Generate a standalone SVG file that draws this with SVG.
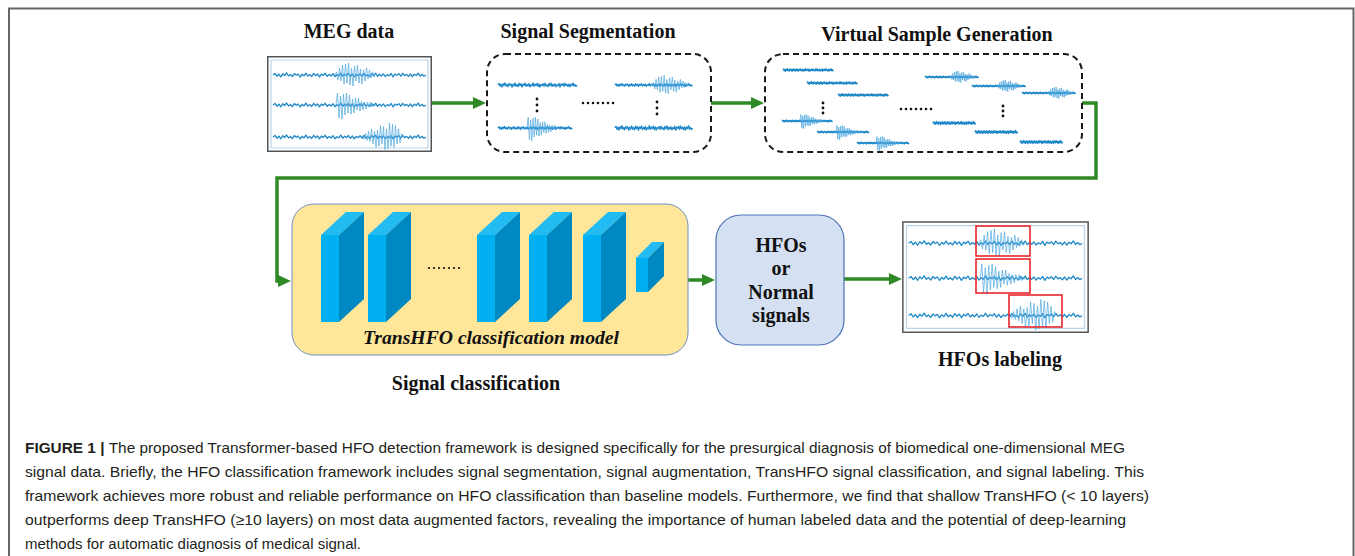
<svg xmlns="http://www.w3.org/2000/svg" xmlns:xlink="http://www.w3.org/1999/xlink" width="1355" height="556" viewBox="0 0 1355 556">
  <style>
    .title { font-family: "Liberation Serif", "Times New Roman", serif; font-weight: bold; font-size: 20px; fill: #111; text-anchor: middle; }
    .model { font-family: "Liberation Serif", "Times New Roman", serif; font-weight: bold; font-style: italic; font-size: 19px; fill: #111; text-anchor: middle; }
    .cap { font-family: "Liberation Sans", Arial, sans-serif; font-size: 15px; fill: #231F20; }
    .noise { fill: none; stroke: #1E88C8; stroke-width: 1.3; stroke-linejoin: round; }
    .burst { fill: none; stroke: #4FA8DE; stroke-width: 0.7; }
    .frame { fill: none; stroke: #666; stroke-width: 2; }
    .dashed { fill: #fff; stroke: #1a1a1a; stroke-width: 2; stroke-dasharray: 6 4; }
    .flow { fill: none; stroke: #2F8A25; stroke-width: 3.5; }
    .dot { fill: #111; }
    .front { fill: #00B0F0; }
    .top { fill: #22BCF3; }
    .side { fill: #0088C2; }
    .mark { fill: none; stroke: #E8262B; stroke-width: 1.6; }
  </style>
  <defs>
    <marker id="head" markerUnits="userSpaceOnUse" markerWidth="13" markerHeight="12" refX="7" refY="6" orient="auto">
      <path d="M0,0 L13,6 L0,12 z" fill="#2F8A25"/>
    </marker>
    <!-- baseline noise trace, 158 px long -->
    <path id="nz" class="noise" vector-effect="non-scaling-stroke" d="M0,0 L2,-1.5 4,1.2 6,-0.8 8,1.8 10,-1.2 12,0.6 14,-2 16,1 18,-0.5 20,1.6 22,-1.4 24,0.3 26,-1 28,2 30,-0.7 32,0.9 34,-1.8 36,1.1 38,-0.4 40,1.5 42,-1.6 44,0.7 46,-1.1 48,1.9 50,-0.9 52,0.4 54,-1.7 56,1.3 58,-0.6 60,1 62,-1.3 64,1.7 66,-0.3 68,0.8 70,-1.9 72,1.2 74,-0.8 76,0.5 78,-1.5 80,1.4 82,-1 84,1.8 86,-0.5 88,0.6 90,-1.2 92,1.1 94,-1.6 96,0.9 98,-0.2 100,1.5 102,-1.4 104,0.7 106,-1.8 108,1.3 110,-0.7 112,1 114,-1.1 116,1.6 118,-0.4 120,0.8 122,-1.5 124,1.9 126,-0.9 128,0.3 130,-1.3 132,1.2 134,-1.7 136,0.6 138,-0.6 140,1.4 142,-1 144,1.7 146,-0.8 148,0.5 150,-1.9 152,1.1 154,-0.5 156,1.3 158,0"/>
    <!-- spindle-shaped oscillation burst -->
    <path id="bs" class="burst" vector-effect="non-scaling-stroke" d="M0,0 L1.5,-3 3,5 4.5,-7 6,6 7.5,-10 9,9 10.5,-11 12,8 13.5,-12 15,10 16.5,-7 18,11 19.5,-9 21,6 22.5,-10 24,8 25.5,-6 27,9 28.5,-5 30,6 31.5,-7 33,4 34.5,-5 36,3 37.5,-3 39,2 40.5,-1 42,0"/>
    <!-- decaying oscillation burst -->
    <path id="bd" class="burst" vector-effect="non-scaling-stroke" d="M0,0 L1.5,-12 3,13 4.5,-9 6,14 7.5,-11 9,10 10.5,-12 12,8 13.5,-10 15,9 16.5,-6 18,8 19.5,-7 21,5 22.5,-7 24,6 25.5,-4 27,5 28.5,-3 30,4 31.5,-3 33,2 34.5,-3 36,2 37.5,-1 39,1 40,0"/>
    <!-- three-channel MEG recording panel, 165 x 96 -->
    <g id="meg">
      <rect x="0.75" y="0.75" width="163.5" height="94.5" fill="#fff" stroke="#555" stroke-width="1.5" vector-effect="non-scaling-stroke"/>
      <rect x="4" y="4" width="157" height="88" fill="none" stroke="#B9D5EC" stroke-width="1.2" vector-effect="non-scaling-stroke"/>
      <use xlink:href="#nz" transform="translate(6,19) scale(0.968,1)"/>
      <use xlink:href="#bs" transform="translate(68,19)"/>
      <use xlink:href="#nz" transform="translate(6,49) scale(0.968,1)"/>
      <use xlink:href="#bd" transform="translate(69,49)"/>
      <use xlink:href="#nz" transform="translate(6,81) scale(0.968,1)"/>
      <use xlink:href="#bs" transform="translate(136,81) scale(-1,1.15)"/>
    </g>
    <!-- 3-D layer block -->
    <g id="blk">
      <polygon class="top" points="0,23 25,0 43,0 18,23"/>
      <polygon class="side" points="18,23 43,0 43,87 18,110"/>
      <rect class="front" x="0" y="23" width="18" height="87"/>
    </g>
  </defs>

  <!-- figure frame -->
  <path class="frame" d="M9,556 V8.5 H1353.5 V556"/>

  <!-- connectors -->
  <g id="connectors">
    <path class="flow" d="M432,103 H480" marker-end="url(#head)"/>
    <path class="flow" d="M711,103 H758" marker-end="url(#head)"/>
    <path class="flow" d="M1082,103 H1096 V178 H277 V281 H285" marker-end="url(#head)"/>
    <path class="flow" d="M688,280 H709" marker-end="url(#head)"/>
    <path class="flow" d="M844,279 H896" marker-end="url(#head)"/>
  </g>

  <!-- MEG data -->
  <g id="meg-data">
    <text class="title" x="349" y="38">MEG data</text>
    <use xlink:href="#meg" transform="translate(267,56)"/>
  </g>

  <!-- Signal segmentation -->
  <g id="segmentation">
    <text class="title" x="588" y="38">Signal Segmentation</text>
    <rect class="dashed" x="487" y="54" width="224" height="98" rx="18"/>
    <use xlink:href="#nz" transform="translate(498,85) scale(0.5,1.1)"/>
    <use xlink:href="#nz" transform="translate(615,85) scale(0.49,0.8)"/>
    <use xlink:href="#bs" transform="translate(652,85) scale(0.9,0.8)"/>
    <use xlink:href="#nz" transform="translate(498,128) scale(0.47,0.8)"/>
    <use xlink:href="#bd" transform="translate(527,128) scale(0.8,0.9)"/>
    <use xlink:href="#nz" transform="translate(615,128) scale(0.49,1.2)"/>
    <circle class="dot" cx="537" cy="99" r="1.4"/>
    <circle class="dot" cx="537" cy="105" r="1.4"/>
    <circle class="dot" cx="537" cy="111" r="1.4"/>
    <circle class="dot" cx="657" cy="102" r="1.4"/>
    <circle class="dot" cx="657" cy="108" r="1.4"/>
    <circle class="dot" cx="657" cy="114" r="1.4"/>
    <circle class="dot" cx="583" cy="103" r="1.3"/>
    <circle class="dot" cx="588" cy="103" r="1.3"/>
    <circle class="dot" cx="593" cy="103" r="1.3"/>
    <circle class="dot" cx="598" cy="103" r="1.3"/>
    <circle class="dot" cx="603" cy="103" r="1.3"/>
    <circle class="dot" cx="608" cy="103" r="1.3"/>
    <circle class="dot" cx="613" cy="103" r="1.3"/>
  </g>

  <!-- Virtual sample generation -->
  <g id="virtual-samples">
    <text class="title" x="937" y="41">Virtual Sample Generation</text>
    <rect class="dashed" x="765" y="54" width="317" height="98" rx="18"/>
    <use xlink:href="#nz" transform="translate(783,70) scale(0.32,0.7)"/>
    <use xlink:href="#nz" transform="translate(807,83) scale(0.32,0.7)"/>
    <use xlink:href="#nz" transform="translate(838,95) scale(0.32,0.7)"/>
    <use xlink:href="#nz" transform="translate(782,121) scale(0.32,0.5)"/>
    <use xlink:href="#bd" transform="translate(800,121) scale(0.6,0.55)"/>
    <use xlink:href="#nz" transform="translate(817,132) scale(0.33,0.5)"/>
    <use xlink:href="#bd" transform="translate(836,132) scale(0.6,0.55)"/>
    <use xlink:href="#nz" transform="translate(857,143) scale(0.33,0.5)"/>
    <use xlink:href="#bd" transform="translate(876,143) scale(0.6,0.55)"/>
    <use xlink:href="#nz" transform="translate(925,77) scale(0.34,0.5)"/>
    <use xlink:href="#bs" transform="translate(950,77) scale(0.6,0.5)"/>
    <use xlink:href="#nz" transform="translate(972,86) scale(0.34,0.5)"/>
    <use xlink:href="#bs" transform="translate(997,86) scale(0.6,0.5)"/>
    <use xlink:href="#nz" transform="translate(1022,93) scale(0.34,0.5)"/>
    <use xlink:href="#bs" transform="translate(1048,93) scale(0.6,0.5)"/>
    <use xlink:href="#nz" transform="translate(933,123) scale(0.27,0.8)"/>
    <use xlink:href="#nz" transform="translate(975,132) scale(0.27,0.8)"/>
    <use xlink:href="#nz" transform="translate(1020,142) scale(0.27,0.8)"/>
    <circle class="dot" cx="823" cy="103" r="1.4"/>
    <circle class="dot" cx="823" cy="108" r="1.4"/>
    <circle class="dot" cx="823" cy="113" r="1.4"/>
    <circle class="dot" cx="1003" cy="106" r="1.4"/>
    <circle class="dot" cx="1003" cy="111" r="1.4"/>
    <circle class="dot" cx="1003" cy="116" r="1.4"/>
    <circle class="dot" cx="901" cy="109" r="1.3"/>
    <circle class="dot" cx="906" cy="109" r="1.3"/>
    <circle class="dot" cx="911" cy="109" r="1.3"/>
    <circle class="dot" cx="916" cy="109" r="1.3"/>
    <circle class="dot" cx="921" cy="109" r="1.3"/>
    <circle class="dot" cx="926" cy="109" r="1.3"/>
    <circle class="dot" cx="931" cy="109" r="1.3"/>
  </g>

  <!-- TransHFO classification model -->
  <g id="classifier">
    <rect x="292" y="204" width="396" height="151" rx="22" fill="#FFE699" stroke="#6F8EC4" stroke-width="1"/>
    <use xlink:href="#blk" transform="translate(321,212)"/>
    <use xlink:href="#blk" transform="translate(368,212)"/>
    <use xlink:href="#blk" transform="translate(477,212)"/>
    <use xlink:href="#blk" transform="translate(529,212)"/>
    <use xlink:href="#blk" transform="translate(583,212)"/>
    <polygon class="top" points="636,258 652,242 664,242 648,258"/>
    <polygon class="side" points="648,258 664,242 664,276 648,292"/>
    <rect class="front" x="636" y="258" width="12" height="34"/>
    <circle class="dot" cx="429" cy="268" r="1.1"/>
    <circle class="dot" cx="434" cy="268" r="1.1"/>
    <circle class="dot" cx="439" cy="268" r="1.1"/>
    <circle class="dot" cx="444" cy="268" r="1.1"/>
    <circle class="dot" cx="449" cy="268" r="1.1"/>
    <circle class="dot" cx="454" cy="268" r="1.1"/>
    <circle class="dot" cx="459" cy="268" r="1.1"/>
    <text class="model" x="491" y="344" textLength="256" lengthAdjust="spacingAndGlyphs">TransHFO classification model</text>
    <text class="title" x="476" y="390">Signal classification</text>
  </g>

  <!-- classification output -->
  <g id="output">
    <rect x="716" y="215" width="128" height="130" rx="25" fill="#D5E1F2" stroke="#4A72B5" stroke-width="1.2"/>
    <text class="title" x="781" y="252">HFOs</text>
    <text class="title" x="781" y="275">or</text>
    <text class="title" x="781" y="299">Normal</text>
    <text class="title" x="781" y="322">signals</text>
  </g>

  <!-- HFOs labeling -->
  <g id="labeling">
    <use xlink:href="#meg" transform="translate(902,221) scale(1.1333,1.1667)"/>
    <rect class="mark" x="976" y="226" width="54" height="30"/>
    <rect class="mark" x="976" y="259" width="54" height="34"/>
    <rect class="mark" x="1009" y="295" width="53" height="32"/>
    <text class="title" x="1000" y="366">HFOs labeling</text>
  </g>

  <!-- caption -->
  <g id="caption">
    <text class="cap" x="25" y="453" textLength="1100" lengthAdjust="spacingAndGlyphs"><tspan font-weight="bold">FIGURE 1 | </tspan>The proposed Transformer-based HFO detection framework is designed specifically for the presurgical diagnosis of biomedical one-dimensional MEG</text>
    <text class="cap" x="25" y="477" textLength="1119" lengthAdjust="spacingAndGlyphs">signal data. Briefly, the HFO classification framework includes signal segmentation, signal augmentation, TransHFO signal classification, and signal labeling. This</text>
    <text class="cap" x="25" y="501" textLength="1124" lengthAdjust="spacingAndGlyphs">framework achieves more robust and reliable performance on HFO classification than baseline models. Furthermore, we find that shallow TransHFO (&lt;  10 layers)</text>
    <text class="cap" x="25" y="525" textLength="1101" lengthAdjust="spacingAndGlyphs">outperforms deep TransHFO (≥10 layers) on most data augmented factors, revealing the importance of human labeled data and the potential of deep-learning</text>
    <text class="cap" x="25" y="549">methods for automatic diagnosis of medical signal.</text>
  </g>
</svg>
